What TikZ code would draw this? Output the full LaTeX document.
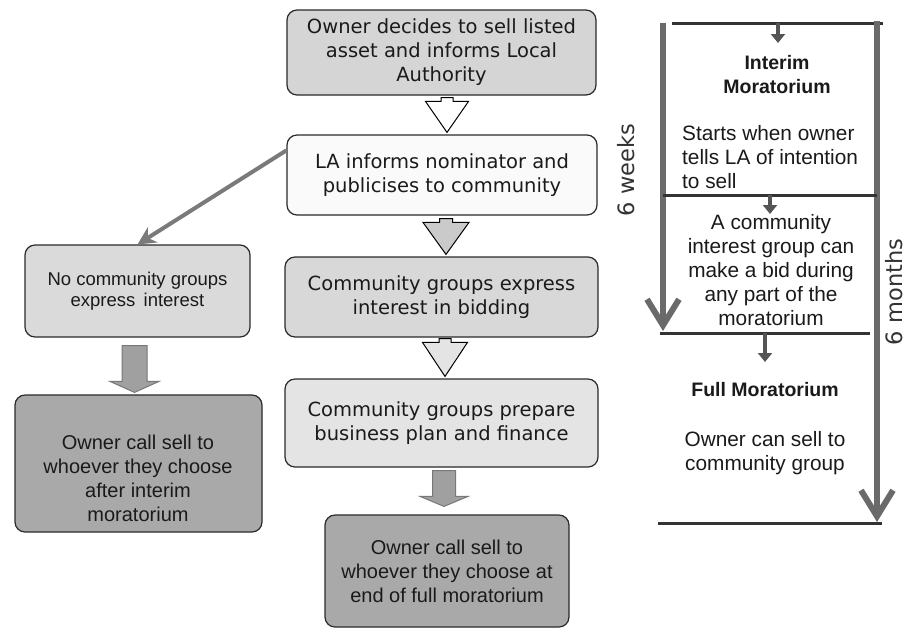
\documentclass[tikz,border=0pt]{standalone}
\usepackage{fontspec}
\setmainfont{Liberation Sans}
\newfontfamily\vfont{DejaVu Sans}
\usetikzlibrary{arrows.meta,calc}
\definecolor{boxline}{HTML}{2A2A2A}
\definecolor{fillA}{HTML}{D5D5D5}
\definecolor{fillB}{HTML}{FAFAFA}
\definecolor{fillC}{HTML}{D8D8D8}
\definecolor{fillD}{HTML}{E4E4E4}
\definecolor{fillE}{HTML}{A9A9A9}
\definecolor{fillL}{HTML}{DADADA}
\definecolor{arrgray}{HTML}{A0A0A0}
\definecolor{arrline}{HTML}{787878}
\definecolor{diag}{HTML}{7A7A7A}
\definecolor{timeg}{HTML}{6A6A6A}
\definecolor{rule}{HTML}{333333}
\definecolor{txtc}{HTML}{1A1A1A}
\tikzset{
  box/.style={draw=boxline, line width=1.2pt, rounded corners=10pt, inner sep=0pt, align=center, text=txtc},
  vtxt/.style={font=\vfont\fontsize{19.5}{24}\selectfont},
  atxt/.style={font=\fontsize{20}{24}\selectfont, text=txtc, align=center, inner sep=0pt},
  ptxt/.style={font=\fontsize{20.8}{24}\selectfont, text=txtc, align=center, inner sep=0pt},
  btxt/.style={font=\bfseries\fontsize{19.5}{24}\selectfont, text=txtc, align=center, inner sep=0pt},
  rtxt/.style={font=\vfont\fontsize{22.5}{26}\selectfont, text=rule, rotate=90, inner sep=0pt},
  blockarrow/.style={line width=1pt, draw=black, line join=miter},
  hrule/.style={draw=rule, line width=3pt},
  timearrow/.style={draw=timeg, line width=6pt, -{Straight Barb[length=26pt,width=32pt]}},
  smallarrow/.style={draw=timeg!80!black, line width=3.5pt, -{Triangle[length=9pt,width=14pt]}},
}
\newcommand{\blockarr}[9][]{%
  \draw[blockarrow,#1] let \p1=(#2.south), \p2=(#3.north) in
    ({#4pt-#5pt/2},{\y1-#8pt}) -- ({#4pt+#5pt/2},{\y1-#8pt})
    -- ({#4pt+#5pt/2},{\y2+#9pt+#7pt}) -- ({#4pt+#6pt/2},{\y2+#9pt+#7pt})
    -- ({#4pt},{\y2+#9pt}) -- ({#4pt-#6pt/2},{\y2+#9pt+#7pt})
    -- ({#4pt-#5pt/2},{\y2+#9pt+#7pt}) -- cycle;}
\begin{document}
\begin{tikzpicture}[x=1pt,y=-1pt]
\useasboundingbox[fill=white] (0,0) rectangle (909,633);

% centre column
\node[box, vtxt, fill=fillA, minimum width=309pt, minimum height=85pt] (b1) at (441.5,52.5)
  {Owner decides to sell listed\\asset and informs Local\\Authority};
\node[box, vtxt, fill=fillB, minimum width=310pt, minimum height=80pt] (b2) at (442,175)
  {LA informs nominator and\\publicises to community};
\node[box, vtxt, fill=fillC, minimum width=313pt, minimum height=80pt] (b3) at (441.5,297)
  {Community groups express\\interest in bidding};
\node[box, vtxt, fill=fillD, minimum width=313pt, minimum height=88pt] (b4) at (441.5,423)
  {Community groups prepare\\business plan and finance};
\node[box, atxt, fill=fillE, minimum width=244pt, minimum height=112pt] (b5) at (447,571)
  {Owner call sell to\\whoever they choose at\\end of full moratorium};

% left column
\node[box, fill=fillL, font=\fontsize{18.5}{21}\selectfont, minimum width=225pt, minimum height=92pt] (l1) at (137.5,291)
  {No community groups\\express\, interest};
\node[box, fill=fillE, minimum width=247pt, minimum height=137pt] (l2) at (138.5,463.5) {};
\node[atxt] (l2t) at (138,478) {Owner call sell to\\whoever they choose\\after interim\\moratorium};

% block arrows
\blockarr[fill=white]{b1}{b2}{447}{12}{43}{31}{2}{2}
\blockarr[fill=fillA!95!black]{b2}{b3}{446}{13}{46}{32}{3}{2}
\blockarr[fill=fillD]{b3}{b4}{445}{12}{45}{34}{1}{2}
\blockarr[fill=arrgray, draw=arrline]{b4}{b5}{444}{23}{48}{10}{3}{8}
\blockarr[fill=arrgray, draw=arrline]{l1}{l2}{134.5}{25}{49}{11}{8}{2}

% diagonal connector
\draw[draw=diag, line width=4pt, -{Stealth[length=18pt,width=18pt]}] (b2.171) -- (l1.north);

% timeline panel
\draw[hrule] (672,23) -- (883,23);
\draw[timearrow] (663,23) -- (663,331);
\draw[timearrow] (877,21) -- (877,522);
\draw[hrule] (663,195) -- (877,195);
\draw[hrule] (660,333) -- (870,333);
\draw[hrule] (658,523) -- (882,523);
\draw[smallarrow] (778,23) -- (778,43);
\draw[smallarrow] (770,195) -- (770,214);
\draw[smallarrow] (765,333) -- (765,362);

\node[btxt] (im) at (777,75) {Interim\\Moratorium};
\node[ptxt, align=left, anchor=west] (st) at (682,157) {Starts when owner\\tells LA of intention\\to sell};
\node[ptxt] (cig) at (771,270) {A community\\interest group can\\make a bid during\\any part of the\\moratorium};
\node[btxt] (fm) at (765,390) {Full Moratorium};
\node[ptxt] (os) at (765,453) {Owner can sell to\\community group};

\node[rtxt] (wk) at (626,170) {6 weeks};
\node[rtxt] (mo) at (894,292) {6 months};
\end{tikzpicture}
\end{document}
